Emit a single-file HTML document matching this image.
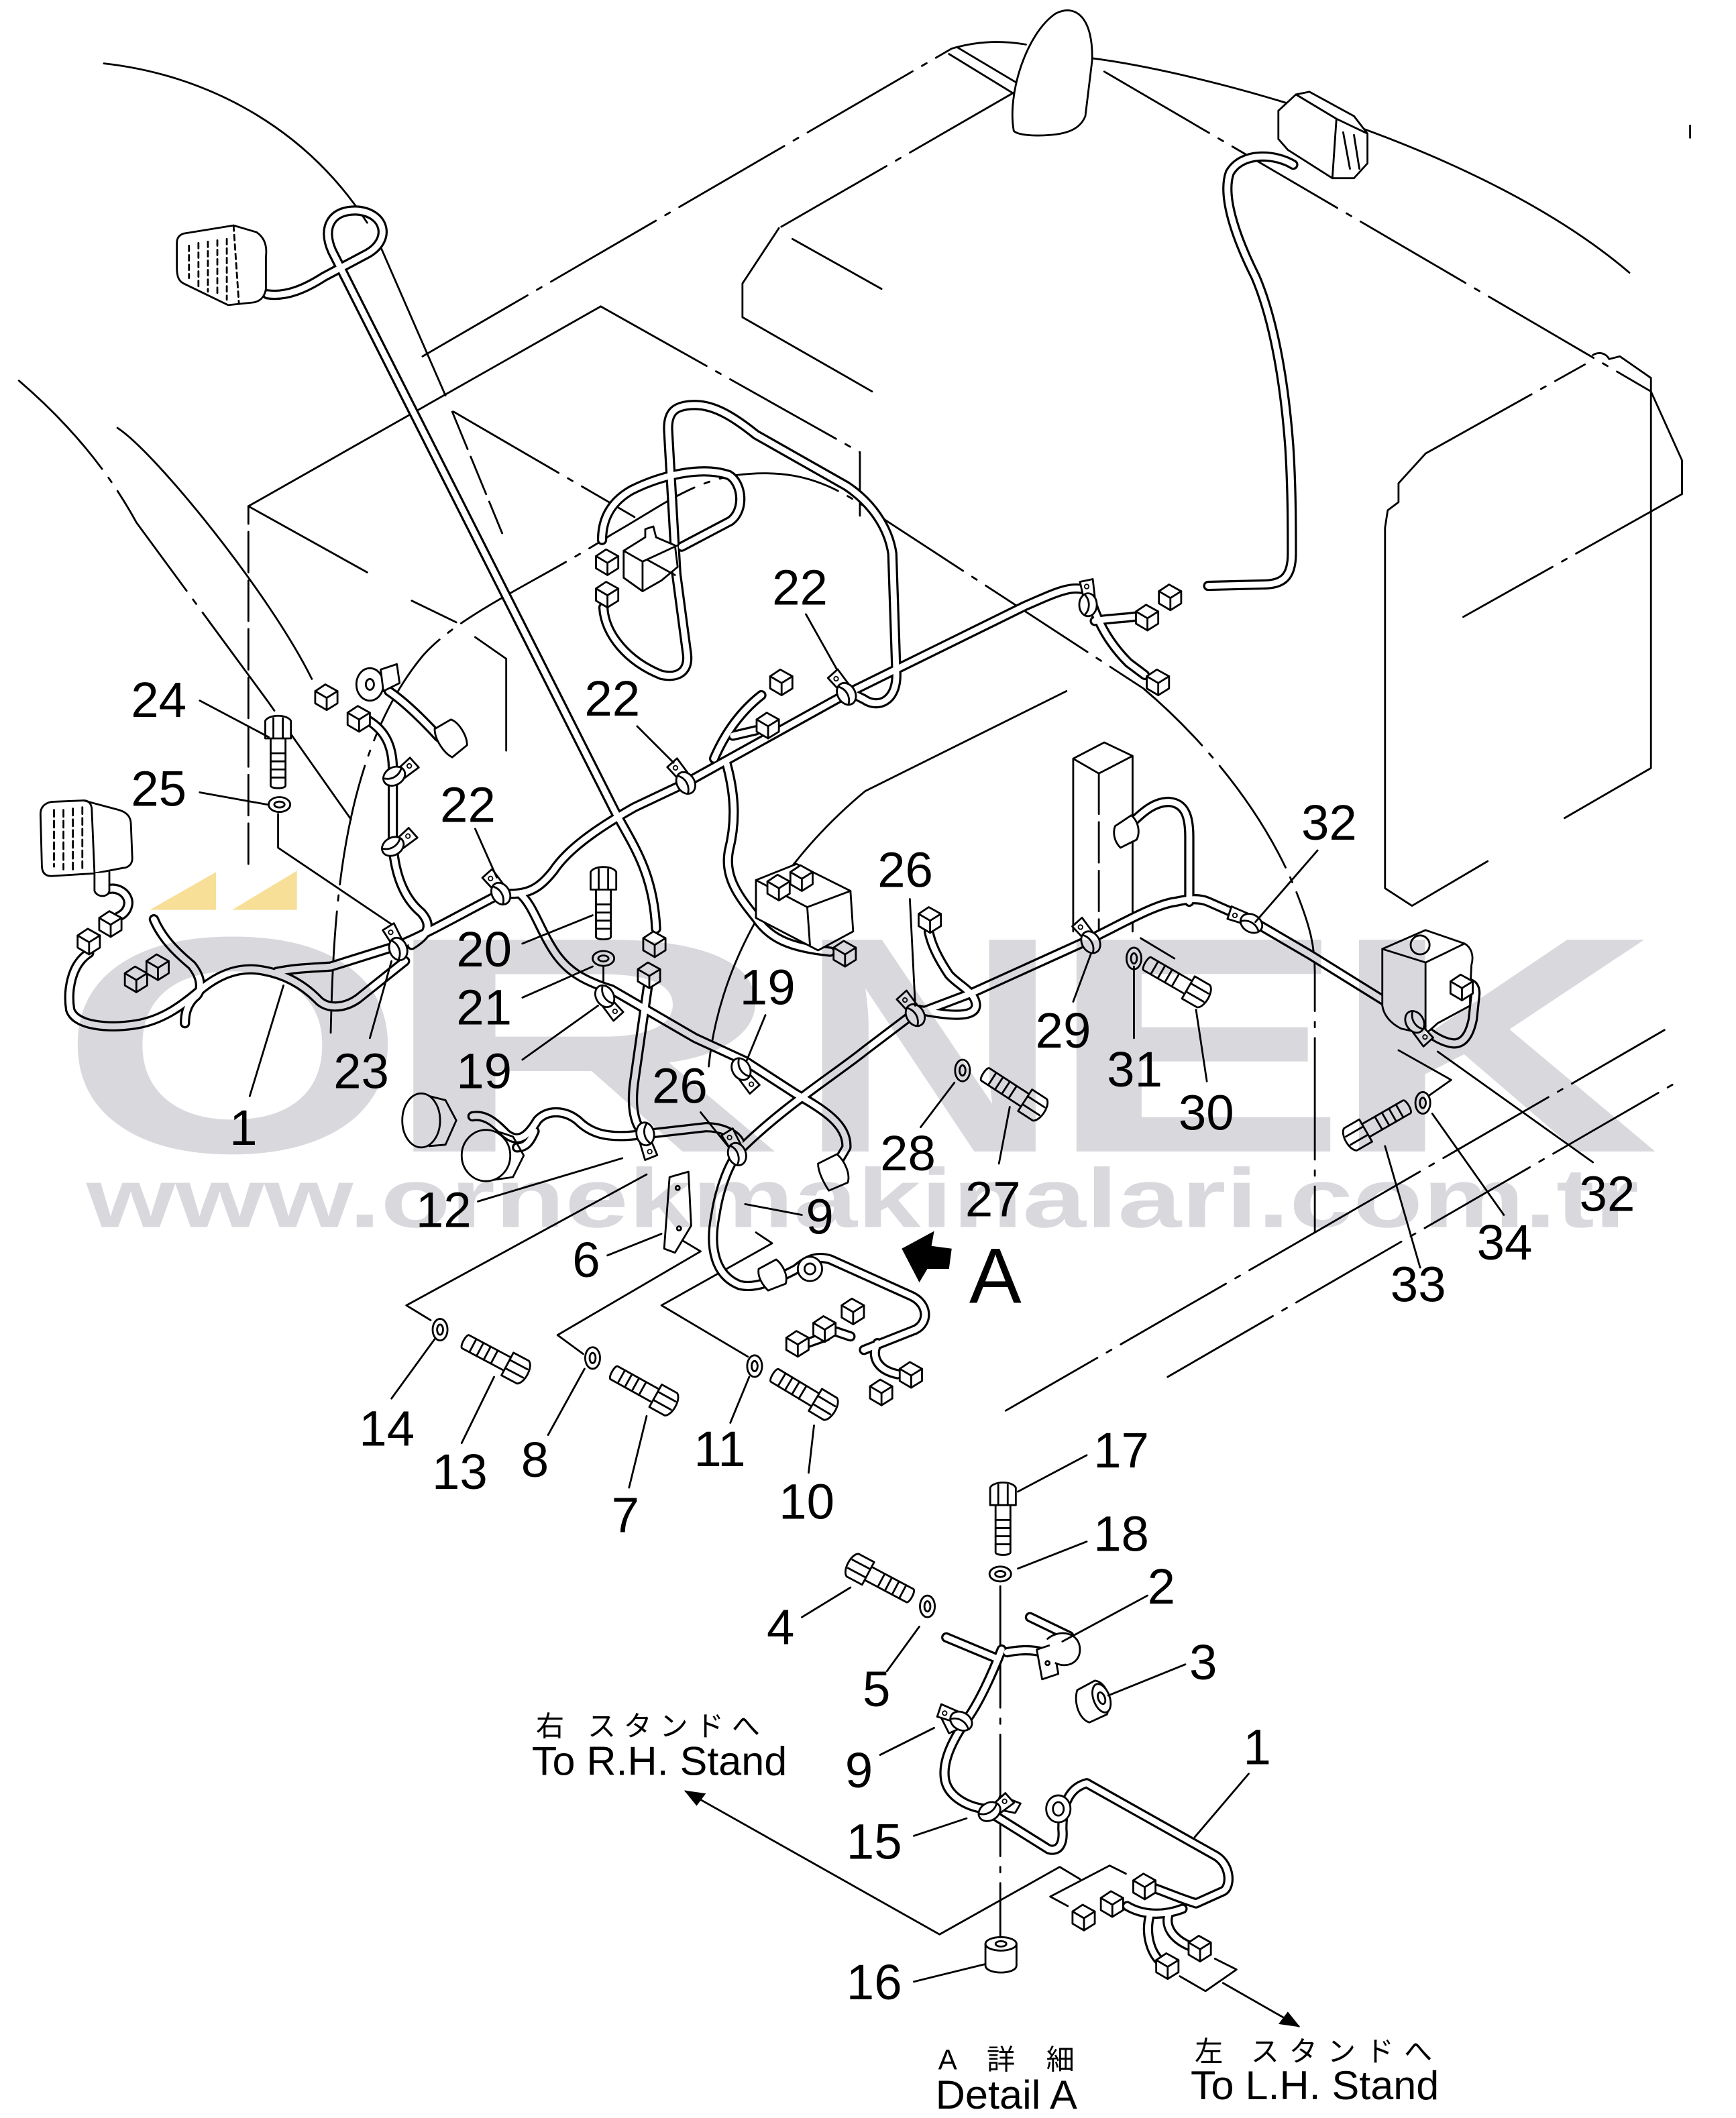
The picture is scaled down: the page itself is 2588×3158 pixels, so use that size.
<!DOCTYPE html>
<html><head><meta charset="utf-8">
<style>
html,body{margin:0;padding:0;background:#fff;}
svg{display:block;}
.l{fill:none;stroke:#000;stroke-width:1.4;stroke-linecap:round;stroke-linejoin:round;}
.f{fill:#fff;stroke:#000;stroke-width:1.4;stroke-linejoin:round;}
.dd{stroke-dasharray:90 8 4 8;}
.ds{stroke-dasharray:30 6;}
.n{font-family:"Liberation Sans",sans-serif;font-size:37px;fill:#000;}
.t{font-family:"Liberation Sans","Noto Sans CJK JP",sans-serif;fill:#000;}
.wm{font-family:"Liberation Sans",sans-serif;font-weight:bold;font-size:228px;fill:#d9d8dd;}
</style></head><body>
<svg width="2588" height="3158" viewBox="0 0 1286 1569" preserveAspectRatio="none" xmlns="http://www.w3.org/2000/svg" xmlns:xlink="http://www.w3.org/1999/xlink">
<defs>
<g id="cb"><path class="f" d="M-7.5,-4 L0,-9 L9,-4 L9,5 L1,10 L-7.5,5 Z"/><path class="l" d="M-7.5,-4 L1,1 L9,-4 M1,1 L1,10"/></g>
<g id="cl"><path class="f" d="M-3.5,-6 L-6,-17 L3.5,-19 L5,-6 Z"/><circle cx="-1" cy="-13.5" r="1.6" fill="none" stroke="#000" stroke-width="0.9"/><ellipse class="f" rx="6.5" ry="8.5"/><path class="l" d="M-2,-7 C1.5,-3 1.5,3 -2,7"/></g>
<g id="bt"><path class="f" d="M0,-5.5 L36,-5.5 L36,5.5 L0,5.5 C-2.5,5.5 -2.5,-5.5 0,-5.5 Z"/><path class="l" d="M6,-5.5 L6,5.5 M12,-5.5 L12,5.5 M18,-5.5 L18,5.5 M24,-5.5 L24,5.5"/><path class="f" d="M35,-9.5 L48,-9.5 C53,-7 53,7 48,9.5 L35,9.5 Z"/><path class="l" d="M35,-3.5 L50,-3.5 M35,3.5 L50,3.5"/></g>
<g id="ws"><ellipse class="f" rx="5.5" ry="8"/><ellipse class="l" rx="2.2" ry="3.8"/></g>
<g id="cab" fill="none" stroke-linecap="round" stroke-linejoin="round">
<path d="M198,218 C212,220 226,214 240,205 L272,188 C290,178 286,158 265,156 C246,155 238,168 246,186 L455,600 C468,625 484,645 486,688"/>
<path d="M958,122 C945,114 920,112 911,128 C905,145 915,175 930,205 C945,240 952,290 955,330 C957,360 957,390 957,410 C957,428 950,433 935,433 L895,434"/>
<path d="M66,706 C52,715 50,735 52,748 C56,760 80,762 100,759 C120,756 135,745 150,732 C165,720 180,716 195,719 C212,722 225,730 235,740 C242,748 255,747 265,740 L300,712"/>
<path d="M205,720 C220,717 232,717 245,716 L296,700 C320,690 345,675 371,662 C390,663 398,660 410,645 C420,630 440,615 470,598 L508,580 L627,514 L759,449 C780,440 795,432 806,438 C810,450 815,470 836,491 L848,500"/>
<path d="M811,460 C822,458 835,458 846,456"/>
<path d="M270,532 C285,540 291,552 291,570 L291,627 C293,650 300,666 312,676 C320,685 318,692 305,700"/>
<path d="M447,450 C448,470 465,490 490,500 C505,503 510,495 509,485 L501,425 L495,320 C494,305 500,300 515,300 C530,300 545,310 560,322 L627,360 C645,372 658,390 661,410 L664,500 C664,520 650,525 640,518 L630,513"/>
<path d="M446,400 C446,385 452,372 468,363 C490,352 520,345 540,352 C550,358 552,378 541,386 L505,405"/>
<path d="M385,662 C395,670 400,690 412,707 C420,718 430,726 453,733 L515,769 L552,786 L589,810 C610,822 628,833 627,850 L620,862"/>
<path d="M350,827 C360,825 368,833 375,840 C385,848 392,840 398,830 C405,822 418,822 428,830 C438,840 450,843 470,841 L523,835 C535,835 545,840 548,846"/>
<path d="M383,850 C390,850 393,845 396,838"/>
<path d="M480,730 L470,800 C467,820 470,835 478,840"/>
<path d="M538,565 C545,590 545,610 540,630 C536,650 548,665 560,680 C570,695 585,702 615,705"/>
<path d="M529,562 C535,548 545,530 564,515 M543,545 L560,541"/>
<path d="M548,952 C530,945 525,925 530,900 C533,880 540,862 548,852 C580,820 620,795 641,778 L674,753 L719,736 L805,697 C830,685 855,670 871,668 C880,666 888,665 895,668 L929,683 L970,707 L1044,753 C1055,762 1065,772 1077,773 C1085,773 1089,765 1091,755 L1093,736 C1093,730 1090,728 1085,728"/>
<path d="M838,610 C848,600 856,594 866,594 C878,595 881,605 881,620 L881,668"/>
<path d="M680,748 C700,752 722,755 723,745 C723,735 710,730 703,722 C695,710 690,700 688,690"/>
<path d="M77,660 C86,655 96,662 95,670 C94,676 90,678 86,680"/>
<path d="M114,681 C120,695 130,705 142,715 C150,725 150,735 144,739 C138,745 137,752 137,758"/>
<path d="M548,952 C560,955 575,948 590,940 C598,933 605,930 615,933 L675,960 C688,966 688,980 678,985 L640,1000"/>
<path d="M650,995 C645,1005 650,1015 665,1018 M630,990 L615,985 M612,990 L598,995"/>
<path d="M742,1222 C735,1240 725,1262 716,1274 C705,1290 698,1305 700,1318 C702,1330 715,1338 729,1340 L777,1370 C785,1372 788,1365 787,1355 C787,1340 790,1325 805,1321 L901,1375 C912,1382 912,1398 906,1401 L886,1410"/>
<path d="M886,1410 C870,1405 860,1400 850,1397 M876,1414 C860,1420 845,1418 835,1412 M866,1417 C862,1428 870,1438 885,1443 M852,1418 C848,1432 852,1448 862,1455"/>
<path d="M701,1213 L737,1228 M763,1198 L792,1212 M746,1224 C755,1222 765,1222 772,1224"/>
<path d="M288,512 C300,520 315,535 325,546"/>
</g>
</defs>
<rect width="1286" height="1569" fill="#fff"/>

<path d="M111,674 L160,674 L160,646 Z M172,674 L220,674 L220,645 Z" fill="#f7df98"/>

<g class="l">
<path d="M77,47 C150,55 225,92 272,165"/>
<path class="dd" d="M14,282 Q70,330 101,387 L198,519 L260,607"/>
<path d="M87,317 C115,335 200,440 231,503"/>
<path class="ds" d="M184,640 L184,375"/>
<path d="M184,375 L445,227"/>
<path class="dd" d="M445,227 L637,335 L637,382"/>
<path d="M184,375 L272,424 M305,445 L338,461 M352,472 L375,488 L375,556"/>
<path class="dd" d="M336,305 L470,383"/>
<path d="M282,183 L330,293"/>
<path class="ds" d="M335,305 L372,395"/>
<path class="dd" d="M313,264 L705,36"/>
<path d="M705,36 Q732,28 760,33 M703,40 L752,70 M709,35 L756,63"/>
<path class="dd" d="M752,68 L577,169"/>
<path d="M577,169 L550,210 L550,235 L646,290 M587,177 L653,214"/>
<path d="M808,43 C900,55 1100,110 1207,202"/>
<path class="dd" d="M818,53 L1223,290"/>
<path d="M1223,290 L1223,569 L1159,606 M1102,638 L1046,671 L1026,658 L1026,391 L1028,378 L1036,372 L1036,358 L1056,336"/>
<path class="dd" d="M1056,336 L1174,270"/>
<path d="M1180,263 C1185,260 1190,262 1192,266 L1200,264 L1223,280 L1223,290 L1246,341 L1246,366"/>
<path class="dd" d="M1246,366 L1084,457"/>
<path d="M1252,93 L1252,102"/>
<path class="dd" d="M245,765 C247,680 252,560 313,486 C340,455 400,430 453,396 C490,375 510,358 545,352 C600,345 625,365 660,388 L847,510 C900,555 940,610 960,660 C970,685 974,700 974,720 L974,913 L745,1045"/>
<path class="dd" d="M974,913 L1233,763"/>
<path class="dd" d="M865,1020 L1245,800"/>
<path d="M525,790 C532,720 570,645 641,586 L790,512"/>
<path d="M795,690 L795,562 L818,550 L839,560 L839,690 M795,562 L814,573 L839,560"/>
<path class="ds" d="M814,573 L814,690"/>
<path d="M1036,778 L1075,800 L1058,812"/>
<path d="M206,603 L206,628 L292,686"/>
<path d="M447,716 L447,738"/>
<path d="M319,978 L301,967 L479,870"/>
<path d="M432,1003 L413,989 L519,927 L504,918"/>
<path d="M554,1005 L490,967 L572,921 L560,913"/>
<path d="M508,1327 L696,1433 L785,1383 L800,1392"/>
<path d="M834,1388 L822,1382 L778,1405 L791,1412 M900,1451 L916,1459 L893,1475 L874,1464"/>
<path d="M906,1469 L962,1501"/>
<path class="dd" d="M741,1175 L741,1445"/>
<path d="M845,695 L870,710"/>
</g>
<path d="M508,1327 L522,1329 L516,1337 Z M962,1501 L948,1499 L954,1491 Z" fill="#000" stroke="#000" stroke-width="1"/>

<use href="#cab" xlink:href="#cab" stroke="#000" stroke-width="7.6"/>
<use href="#cab" xlink:href="#cab" stroke="#fff" stroke-width="4.4"/>

<g class="l">
<path class="f" d="M136,173 L173,167 L190,172 C196,176 198,182 197,190 L197,214 C196,220 193,223 188,224 L169,226 L136,210 C132,208 131,204 131,198 L131,180 C131,176 133,174 136,173 Z"/>
<path d="M173,167 L177,225 M140,182 L140,206 M147,180 L147,212 M154,179 L154,216 M161,178 L161,219 M168,177 L168,222" stroke-dasharray="4 3"/>
<path class="f" d="M38,594 L62,593 L88,600 C95,602 97,606 97,611 L98,636 C98,640 95,643 91,643 L70,647 L38,649 C33,649 31,646 31,641 L30,603 C30,598 33,595 38,594 Z"/>
<path d="M62,593 C66,593 68,596 68,600 L70,647"/>
<path d="M40,600 L40,642 M47,600 L47,644 M54,599 L54,645 M61,598 L61,646" stroke-dasharray="5 3"/>
<path class="f" d="M70,647 L70,660 C72,665 80,665 81,660 L81,646"/>
<path class="f" d="M947,82 L960,70 L970,68 L1003,86 L1013,99 L1013,121 L1003,132 L987,132 L954,111 L947,103 Z"/>
<path d="M960,70 L990,88 L1013,99 M990,88 L987,132 M995,98 L1000,125 M1003,100 L1007,125"/>
<path class="f" d="M751,97 C746,70 760,25 782,10 C798,2 810,15 809,45 L804,86 C800,96 790,99 778,100 C765,101 754,100 751,97 Z"/>
</g>

<g class="l">
<path class="f" d="M462,408 L478,398 L478,392 L484,390 L486,398 L500,404 L502,420 L490,430 L476,438 L462,428 Z"/>
<path d="M462,408 L476,416 L502,404 M476,416 L476,438 M480,415 L500,426"/>
<path class="f" d="M560,652 L590,640 L630,660 L632,690 L606,704 L560,680 Z"/>
<path d="M560,652 L598,672 L630,660 M598,672 L600,700"/>
<ellipse class="f" cx="274" cy="507" rx="10" ry="12"/>
<ellipse cx="274" cy="507" rx="3" ry="4"/>
<path class="f" d="M282,496 L294,492 L296,506 L284,512 Z"/>
<path class="f" d="M322,540 L334,533 C340,535 346,545 346,552 L335,561 C329,558 322,548 322,540 Z"/>
<ellipse class="f" cx="312" cy="830" rx="14" ry="20"/>
<path d="M318,812 L330,815 L338,830 L330,848 L318,849"/>
<ellipse class="f" cx="360" cy="856" rx="18" ry="19"/>
<path d="M368,838 L380,842 L388,856 L380,872 L366,874"/>
<path class="f" d="M826,612 L838,604 C843,608 845,616 842,622 L830,628 C826,624 824,618 826,612 Z"/>
<path class="f" d="M1024,703 L1056,689 L1085,699 C1090,702 1092,708 1090,715 L1089,736 L1089,745 L1065,758 L1056,766 L1038,762 C1030,758 1025,752 1024,745 Z"/>
<path d="M1024,703 L1056,713 L1085,699 M1056,713 L1056,766"/>
<circle class="f" cx="1052" cy="700" r="7"/>
<path class="f" d="M496,872 L510,868 L512,908 L500,928 L492,925 Z"/>
<circle cx="502" cy="880" r="1.5"/><circle cx="503" cy="910" r="1.5"/>
<path class="f" d="M606,862 L620,855 C626,860 630,870 628,876 L614,882 C610,876 606,868 606,862 Z"/>
<ellipse class="f" cx="600" cy="940" rx="9" ry="9"/>
<ellipse cx="600" cy="940" rx="4" ry="4"/>
<path class="f" d="M562,940 L575,933 C580,937 584,945 582,951 L569,956 C565,952 561,946 562,940 Z"/>
<ellipse class="f" cx="784" cy="1340" rx="9" ry="10"/>
<ellipse cx="784" cy="1340" rx="4" ry="5"/>
<path class="f" d="M730,1440 L730,1456 C730,1463 753,1463 753,1456 L753,1440"/>
<ellipse class="f" cx="741.5" cy="1440" rx="11.5" ry="5"/>
<ellipse cx="741.5" cy="1440" rx="4" ry="2"/>
<path class="f" d="M798,1252 L811,1245 C820,1246 824,1260 820,1270 L807,1276 C800,1274 795,1262 798,1252 Z"/>
<ellipse class="f" cx="816" cy="1258" rx="6" ry="11" transform="rotate(-20 816 1258)"/>
<ellipse cx="816" cy="1258" rx="2.5" ry="4.5" transform="rotate(-20 816 1258)"/>
<path class="f" d="M768,1222 L780,1218 L784,1240 L772,1244 Z"/>
<circle cx="776" cy="1232" r="1.5"/>
<path class="f" d="M776,1214 C786,1206 800,1210 800,1222 C800,1232 790,1236 782,1232"/>
<path class="f" d="M741,1330 L756,1336 L752,1343 L737,1340 Z"/>
<path class="f" d="M697,1272 L705,1266 L712,1280 L703,1284 Z"/>
</g>

<use href="#cl" xlink:href="#cl" transform="translate(295,703) rotate(-20)"/>
<use href="#cl" xlink:href="#cl" transform="translate(371,662) rotate(-30)"/>
<use href="#cl" xlink:href="#cl" transform="translate(508,580) rotate(-30)"/>
<use href="#cl" xlink:href="#cl" transform="translate(627,514) rotate(-30)"/>
<use href="#cl" xlink:href="#cl" transform="translate(448,738) rotate(150)"/>
<use href="#cl" xlink:href="#cl" transform="translate(549,792) rotate(150)"/>
<use href="#cl" xlink:href="#cl" transform="translate(678,752) rotate(-30)"/>
<use href="#cl" xlink:href="#cl" transform="translate(808,698) rotate(-30)"/>
<use href="#cl" xlink:href="#cl" transform="translate(927,684) rotate(-60)"/>
<use href="#cl" xlink:href="#cl" transform="translate(1048,757) rotate(150)"/>
<use href="#cl" xlink:href="#cl" transform="translate(478,840) rotate(170)"/>
<use href="#cl" xlink:href="#cl" transform="translate(546,855) rotate(-20)"/>
<use href="#cl" xlink:href="#cl" transform="translate(712,1275) rotate(-60)"/>
<use href="#cl" xlink:href="#cl" transform="translate(733,1342) rotate(60)"/>
<use href="#cl" xlink:href="#cl" transform="translate(291,627) rotate(60)"/>
<use href="#cl" xlink:href="#cl" transform="translate(292,575) rotate(60)"/>
<use href="#cl" xlink:href="#cl" transform="translate(806,448) rotate(0)"/>

<use href="#cb" xlink:href="#cb" x="241" y="516"/>
<use href="#cb" xlink:href="#cb" x="265" y="532"/>
<use href="#cb" xlink:href="#cb" x="81" y="684"/>
<use href="#cb" xlink:href="#cb" x="65" y="697"/>
<use href="#cb" xlink:href="#cb" x="100" y="725"/>
<use href="#cb" xlink:href="#cb" x="116" y="716"/>
<use href="#cb" xlink:href="#cb" x="449" y="416"/>
<use href="#cb" xlink:href="#cb" x="449" y="440"/>
<use href="#cb" xlink:href="#cb" x="484" y="699"/>
<use href="#cb" xlink:href="#cb" x="480" y="722"/>
<use href="#cb" xlink:href="#cb" x="578" y="505"/>
<use href="#cb" xlink:href="#cb" x="568" y="537"/>
<use href="#cb" xlink:href="#cb" x="849" y="457"/>
<use href="#cb" xlink:href="#cb" x="866" y="442"/>
<use href="#cb" xlink:href="#cb" x="857" y="505"/>
<use href="#cb" xlink:href="#cb" x="688" y="681"/>
<use href="#cb" xlink:href="#cb" x="1082" y="731"/>
<use href="#cb" xlink:href="#cb" x="631" y="971"/>
<use href="#cb" xlink:href="#cb" x="610" y="984"/>
<use href="#cb" xlink:href="#cb" x="590" y="995"/>
<use href="#cb" xlink:href="#cb" x="674" y="1018"/>
<use href="#cb" xlink:href="#cb" x="652" y="1031"/>
<use href="#cb" xlink:href="#cb" x="847" y="1397"/>
<use href="#cb" xlink:href="#cb" x="823" y="1410"/>
<use href="#cb" xlink:href="#cb" x="802" y="1420"/>
<use href="#cb" xlink:href="#cb" x="888" y="1443"/>
<use href="#cb" xlink:href="#cb" x="864" y="1456"/>
<use href="#cb" xlink:href="#cb" x="576" y="657"/>
<use href="#cb" xlink:href="#cb" x="593" y="650"/>
<use href="#cb" xlink:href="#cb" x="625" y="706"/>

<use href="#bt" xlink:href="#bt" transform="translate(206,582) rotate(-90)"/>
<use href="#bt" xlink:href="#bt" transform="translate(447,694) rotate(-90)"/>
<use href="#bt" xlink:href="#bt" transform="translate(743,1150) rotate(-90)"/>
<use href="#bt" xlink:href="#bt" transform="translate(345,994) rotate(28)"/>
<use href="#bt" xlink:href="#bt" transform="translate(455,1017) rotate(29)"/>
<use href="#bt" xlink:href="#bt" transform="translate(574,1019) rotate(31)"/>
<use href="#bt" xlink:href="#bt" transform="translate(850,714) rotate(30)"/>
<use href="#bt" xlink:href="#bt" transform="translate(730,796) rotate(33)"/>
<use href="#bt" xlink:href="#bt" transform="translate(1042,820) rotate(150)"/>
<use href="#bt" xlink:href="#bt" transform="translate(674,1182) rotate(208)"/>

<use href="#ws" xlink:href="#ws" transform="translate(207,596) rotate(90)"/>
<use href="#ws" xlink:href="#ws" transform="translate(447,710) rotate(90)"/>
<use href="#ws" xlink:href="#ws" transform="translate(741,1166) rotate(90)"/>
<use href="#ws" xlink:href="#ws" transform="translate(840,710)"/>
<use href="#ws" xlink:href="#ws" transform="translate(713,793)"/>
<use href="#ws" xlink:href="#ws" transform="translate(1054,817)"/>
<use href="#ws" xlink:href="#ws" transform="translate(326,985)"/>
<use href="#ws" xlink:href="#ws" transform="translate(439,1006)"/>
<use href="#ws" xlink:href="#ws" transform="translate(559,1012)"/>
<use href="#ws" xlink:href="#ws" transform="translate(687,1190)"/>

<path class="l" d="M148,519 L199,546 M148,587 L198,596 M352,614 L368,650 M472,538 L499,565 M597,455 L620,496 M387,699 L439,678 M387,739 L439,716 M387,785 L443,745 M274,769 L290,712 M185,812 L210,730 M567,752 L553,786 M674,666 L678,745 M519,824 L540,850 M795,742 L808,707 M840,769 L840,716 M894,801 L886,748 M976,630 L930,683 M1180,861 L1065,779 M1114,900 L1061,825 M1052,939 L1026,849 M682,835 L707,802 M740,862 L748,820 M354,890 L461,858 M552,892 L594,900 M450,930 L490,914 M290,1036 L322,992 M342,1069 L366,1020 M406,1063 L433,1014 M466,1102 L479,1049 M541,1054 L555,1020 M599,1091 L603,1056 M805,1078 L754,1105 M805,1142 L754,1162 M850,1182 L787,1216 M878,1233 L821,1256 M594,1198 L630,1176 M657,1238 L681,1205 M925,1314 L885,1361 M652,1300 L692,1280 M677,1360 L716,1347 M677,1468 L730,1455"/>

<path d="M668,925 L692,912 L690,923 L705,925 L703,940 L687,940 L681,950 Z" fill="#000"/>

<g class="n">
<text x="97" y="531">24</text>
<text x="97" y="597">25</text>
<text x="326" y="609">22</text>
<text x="433" y="530">22</text>
<text x="572" y="448">22</text>
<text x="338" y="716">20</text>
<text x="338" y="759">21</text>
<text x="338" y="806">19</text>
<text x="247" y="806">23</text>
<text x="170" y="848">1</text>
<text x="548" y="744">19</text>
<text x="650" y="657">26</text>
<text x="483" y="817">26</text>
<text x="767" y="776">29</text>
<text x="820" y="805">31</text>
<text x="873" y="837">30</text>
<text x="964" y="622">32</text>
<text x="1170" y="897">32</text>
<text x="652" y="867">28</text>
<text x="715" y="901">27</text>
<text x="1030" y="964">33</text>
<text x="1094" y="933">34</text>
<text x="308" y="909">12</text>
<text x="597" y="914">9</text>
<text x="424" y="946">6</text>
<text x="266" y="1071">14</text>
<text x="320" y="1103">13</text>
<text x="386" y="1094">8</text>
<text x="453" y="1135">7</text>
<text x="514" y="1086">11</text>
<text x="577" y="1125">10</text>
<text x="810" y="1087">17</text>
<text x="810" y="1149">18</text>
<text x="850" y="1188">2</text>
<text x="881" y="1244">3</text>
<text x="568" y="1218">4</text>
<text x="639" y="1264">5</text>
<text x="921" y="1307">1</text>
<text x="626" y="1324">9</text>
<text x="627" y="1377">15</text>
<text x="627" y="1481">16</text>
</g>
<text class="t" x="718" y="965" font-size="58">A</text>
<text class="t" x="397" y="1286" font-size="21" textLength="166" lengthAdjust="spacing">右 スタンドへ</text>
<text class="t" x="394" y="1315" font-size="30" textLength="189" lengthAdjust="spacingAndGlyphs">To R.H. Stand</text>
<text class="t" x="695" y="1533" font-size="21" textLength="101" lengthAdjust="spacing">A 詳 細</text>
<text class="t" x="693" y="1562" font-size="30" textLength="105" lengthAdjust="spacingAndGlyphs">Detail A</text>
<text class="t" x="885" y="1527" font-size="21" textLength="176" lengthAdjust="spacing">左  スタンドへ</text>
<text class="t" x="882" y="1555" font-size="30" textLength="184" lengthAdjust="spacingAndGlyphs">To L.H. Stand</text>

<g style="mix-blend-mode:multiply">
<text class="wm" transform="translate(44,853) scale(1.45,1)">O</text>
<text class="wm" transform="translate(278,853) scale(1.85,1)">R</text>
<text class="wm" transform="translate(591,853) scale(1.18,1)">N</text>
<text class="wm" transform="translate(775,853) scale(1.47,1)">E</text>
<text class="wm" transform="translate(984,853) scale(1.49,1)">K</text>
<text x="64" y="909" font-family="Liberation Sans" font-weight="bold" font-size="62" textLength="1150" lengthAdjust="spacingAndGlyphs" fill="#d9d8dd">www.ornekmakinalari.com.tr</text>
</g>
</svg>
</body></html>
